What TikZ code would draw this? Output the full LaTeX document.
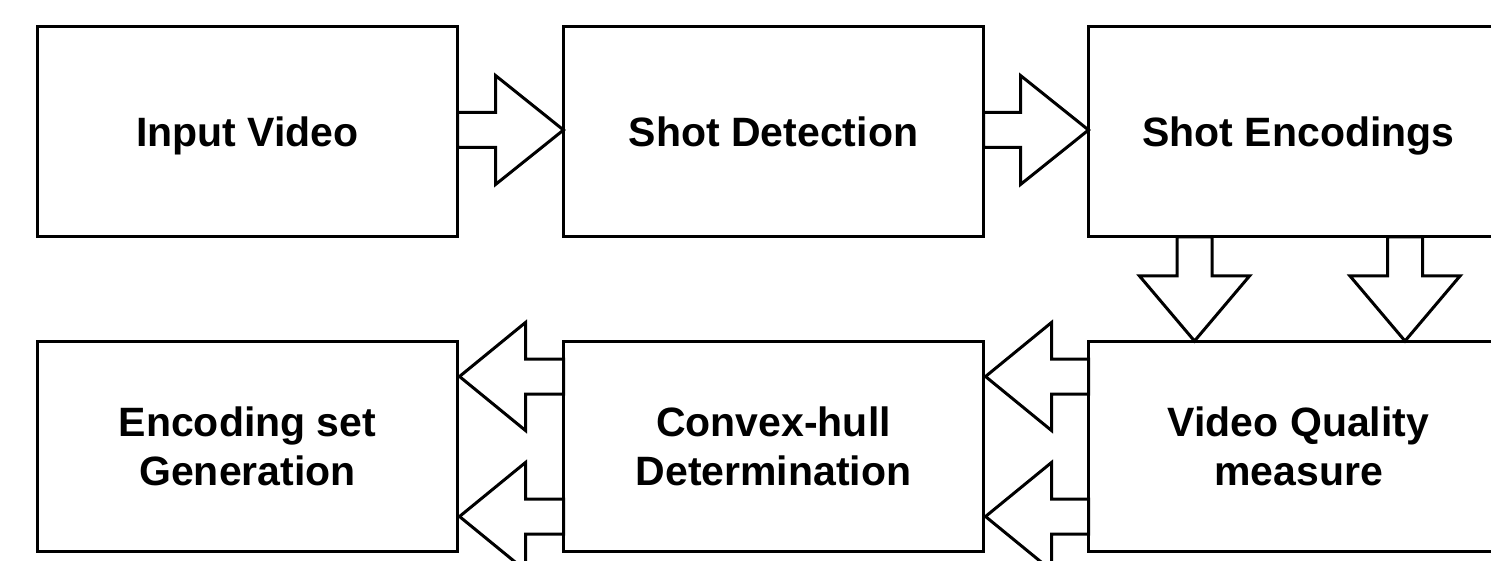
\documentclass[tikz,border=0pt]{standalone}
\usepackage{fontspec}
\setmainfont{Liberation Sans}
\usetikzlibrary{calc}
\tikzset{
  stage/.style={draw, line width=3pt, minimum width=420pt, minimum height=210pt,
    inner sep=0pt, outer sep=0pt, align=center, text height=29pt, text depth=0pt,
    font=\fontsize{41}{49}\selectfont\bfseries},
  twoline/.style={text height=78pt, text depth=0pt},
  blockarrow/.style={draw, line width=3pt, line join=miter, fill=white}
}
\begin{document}
\begin{tikzpicture}[x=1pt,y=-1pt]
\useasboundingbox (0,0) rectangle (1491,561);
\clip (0,0) rectangle (1491,561);
% boxes
\node[stage] (input)  at (247.5,132) {Input Video};
\node[stage] (shot)   at (773.5,132) {Shot Detection};
\node[stage] (enc)    at (1298.5,132) {Shot Encodings};
\node[stage,twoline] (gen)    at (247.5,446) {Encoding set\\Generation};
\node[stage,twoline] (hull)   at (773.5,446) {Convex-hull\\Determination};
\node[stage,twoline] (vq)     at (1298.5,446) {Video Quality\\measure};
% right arrows (top row)
\foreach \a/\b in {input/shot, shot/enc}{
  \coordinate (s) at ($(\a.east)+(0,-2)$);
  \coordinate (t) at (\b.west |- s);
  \draw[blockarrow] ($(s)+(0,-17.5)$) -- ($(t)+(-68,-17.5)$) -- ($(t)+(-68,-54.5)$)
     -- (t) -- ($(t)+(-68,54.5)$) -- ($(t)+(-68,17.5)$) -- ($(s)+(0,17.5)$) -- cycle;
}
% down arrows
\foreach \dx in {-104,106.5}{
  \coordinate (s) at ($(enc.south)+(\dx,0)$);
  \coordinate (t) at ($(vq.north)+(\dx,0)$);
  \draw[blockarrow] ($(s)+(-17.5,0)$) -- ($(t)+(-17.5,-65)$) -- ($(t)+(-55,-65)$)
     -- (t) -- ($(t)+(55,-65)$) -- ($(t)+(17.5,-65)$) -- ($(s)+(17.5,0)$) -- cycle;
}
% left arrows (bottom row)
\foreach \a/\b in {vq/hull, hull/gen}{
  \foreach \dy in {-69.5,70.5}{
    \coordinate (s) at ($(\a.west)+(0,\dy)$);
    \coordinate (t) at ($(\b.east)+(2,\dy)$);
    \draw[blockarrow] ($(s)+(0,-17.5)$) -- ($(t)+(66,-17.5)$) -- ($(t)+(66,-54)$)
       -- (t) -- ($(t)+(66,54)$) -- ($(t)+(66,17.5)$) -- ($(s)+(0,17.5)$) -- cycle;
  }
}
\end{tikzpicture}
\end{document}
